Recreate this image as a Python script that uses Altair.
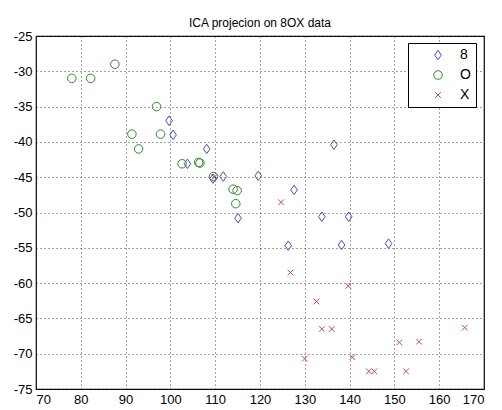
import altair as alt
import pandas as pd

title = "ICA projecion on 8OX data"
classes = ["8", "O", "X"]

b_x = [99.7, 100.6, 108.1, 103.8, 109.5, 111.8, 119.6, 115.1, 127.6, 136.5, 133.8, 139.8, 126.3, 138.2, 148.7]
b_y = [-37.0, -39.0, -41.0, -43.1, -45.2, -44.9, -44.8, -50.8, -46.8, -40.4, -50.6, -50.6, -54.7, -54.6, -54.4]

g_x = [78.0, 82.2, 87.6, 96.9, 91.4, 97.8, 92.9, 102.6, 106.3, 106.6, 109.6, 114.0, 114.9, 114.6]
g_y = [-31.0, -31.0, -29.0, -35.0, -38.9, -38.9, -41.0, -43.1, -42.9, -43.0, -44.9, -46.7, -46.9, -48.75]

r_x = [109.8, 124.7, 126.8, 139.7, 132.6, 133.8, 136.0, 130.0, 140.6, 144.3, 145.5, 152.6, 151.1, 155.5, 165.7]
r_y = [-45.0, -48.55, -58.5, -60.4, -62.6, -66.5, -66.5, -70.7, -70.5, -72.5, -72.5, -72.5, -68.4, -68.3, -66.3]

x_ticks = list(range(70, 171, 10))
y_ticks = list(range(-75, -24, 5))

rows = []
for cls, xs, ys in zip(classes, [b_x, g_x, r_x], [b_y, g_y, r_y]):
    for x, y in zip(xs, ys):
        rows.append({"x": x, "y": y, "cls": cls})
df = pd.DataFrame(rows)

diamond = "M0,-1L0.7,0L0,1L-0.7,0Z"
circle = "M0.9,0A0.9,0.9,0,1,1,-0.9,0A0.9,0.9,0,1,1,0.9,0Z"
xshape = "M-0.6,-0.6L0.6,0.6M-0.6,0.6L0.6,-0.6"

FONT = "Liberation Sans"

legend = alt.Legend(title=None, orient="none", legendX=372, legendY=7,
                    padding=5, symbolOffset=18, labelOffset=15,
                    strokeColor="black", fillColor="white",
                    rowPadding=6, symbolSize=90, symbolStrokeWidth=1,
                    labelFontSize=14, labelFont=FONT, labelColor="black")

chart = alt.Chart(df).mark_point(filled=False, strokeWidth=1, opacity=1, size=90).encode(
    x=alt.X("x:Q", scale=alt.Scale(domain=[70, 170], nice=False, zero=False),
            axis=alt.Axis(values=x_ticks, title=None, labelExpr="'' + datum.value")),
    y=alt.Y("y:Q", scale=alt.Scale(domain=[-75, -25], nice=False, zero=False),
            axis=alt.Axis(values=y_ticks, title=None, labelExpr="'' + datum.value")),
    shape=alt.Shape("cls:N", scale=alt.Scale(domain=classes, range=[diamond, circle, xshape]),
                    legend=legend),
    color=alt.Color("cls:N", scale=alt.Scale(domain=classes, range=["#4b4bbd", "#2f8a2f", "#c5485a"]),
                    legend=legend),
).properties(
    width=448, height=353,
    title=alt.TitleParams(title, fontSize=12, font=FONT, fontWeight="normal", color="black", offset=0),
    padding={"left": 0, "top": 9, "right": 5, "bottom": 0},
).configure(
    background="white",
    axis=alt.AxisConfig(
        grid=True, gridColor="#333333", gridDash=[1, 3], gridOpacity=0.9, gridWidth=1,
        ticks=False, labelPadding=4, labelFontSize=13, labelFont=FONT, labelColor="black",
        domain=False, minExtent=28, maxExtent=28,
    ),
    view=alt.ViewConfig(stroke="black", strokeWidth=1.2),
)

chart.save("out.html", embed_options={"renderer": "svg", "actions": False})
